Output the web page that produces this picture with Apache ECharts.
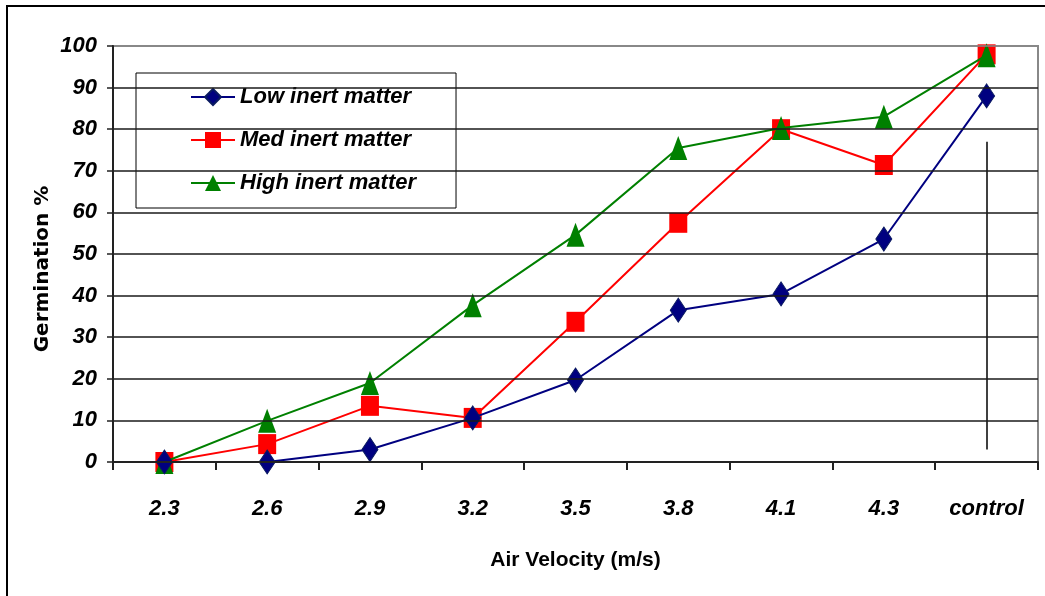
<!DOCTYPE html>
<html>
<head>
<meta charset="utf-8">
<script src="https://cdn.jsdelivr.net/npm/echarts@6/dist/echarts.min.js"></script>
<style>
  html, body { margin: 0; padding: 0; background: #fff; }
  #chart { width: 1045px; height: 596px; }
</style>
</head>
<body>
<div id="chart"></div>
<script>
// categories on the x axis
const velocities = ["2.3", "2.6", "2.9", "3.2", "3.5", "3.8", "4.1", "4.3", "control"];
// germination % per inert matter level
const lowInert = [0, 0, 3, 10.6, 19.7, 36.5, 40.4, 53.6, 88];
const medInert = [0, 4.3, 13.5, 10.6, 33.7, 57.5, 80, 71.4, 98];
const highInert = [0, 9.9, 19, 37.7, 54.6, 75.5, 80.3, 83, 97.8];
// the stray vertical line in the control column (from, to)
const controlLine = [3, 77];

const labelFont = {
  fontFamily: "Liberation Sans",
  fontWeight: "bold",
  fontStyle: "italic",
  fontSize: 22,
  color: "#000"
};

let myChart = echarts.init(document.getElementById("chart"));

// splitLine colours: black except the top one which is the grey frame
let gridColors = [];
for (let i = 0; i <= 10; i++) gridColors.push(i === 10 ? "#888888" : "#1a1a1a");

let option = {
  backgroundColor: "#fff",
  animation: false,
  graphic: [
    {
      type: "rect",
      shape: { x: 7, y: 6, width: 1200, height: 800 },
      style: { fill: "none", stroke: "#000", lineWidth: 2 },
      silent: true
    }
  ],
  grid: {
    left: 113,
    top: 46,
    right: 7,
    bottom: 134,
    show: true,
    borderColor: "#888888",
    borderWidth: 2
  },
  legend: {
    left: 136,
    top: 73,
    orient: "vertical",
    itemWidth: 44,
    itemHeight: 20,
    itemGap: 21,
    padding: [13, 40, 14, 54],
    borderColor: "#000",
    borderWidth: 1,
    backgroundColor: "#fff",
    textStyle: labelFont,
    data: ["Low inert matter", "Med inert matter", "High inert matter"]
  },
  xAxis: {
    type: "category",
    data: velocities,
    boundaryGap: true,
    name: "Air Velocity (m/s)",
    nameLocation: "middle",
    nameGap: 88,
    nameMoveOverlap: false,
    nameTextStyle: {
      fontFamily: "Liberation Sans",
      fontWeight: "bold",
      fontSize: 21,
      color: "#000",
      verticalAlign: "top"
    },
    axisLine: { lineStyle: { color: "#222", width: 2 } },
    axisTick: { show: true, length: 8, interval: 0, lineStyle: { color: "#222", width: 2 } },
    axisLabel: Object.assign({ margin: 36, interval: 0 }, labelFont),
    splitLine: { show: false },
    z: 10
  },
  yAxis: {
    type: "value",
    min: 0,
    max: 100,
    interval: 10,
    name: "Germination %",
    nameLocation: "middle",
    nameGap: 60,
    nameRotate: 90,
    nameMoveOverlap: false,
    nameTextStyle: {
      fontFamily: "DejaVu Sans",
      fontWeight: "bold",
      fontSize: 20,
      color: "#000",
      padding: [0, 0, 0, -30]
    },
    axisLine: { show: true, lineStyle: { color: "#222", width: 2 } },
    axisTick: { show: true, length: 6, lineStyle: { color: "#222", width: 1.5 } },
    axisLabel: Object.assign({ margin: 16 }, labelFont),
    splitLine: { show: true, lineStyle: { color: gridColors, width: 1.5 } },
    z: 10
  },
  series: [
    {
      name: "Low inert matter",
      type: "line",
      data: lowInert,
      symbol: "diamond",
      symbolSize: [16, 24],
      z: 6,
      lineStyle: { color: "#000080", width: 2 },
      itemStyle: { color: "#000080", borderColor: "#0a1a60", borderWidth: 1 },
      markLine: {
        silent: true,
        symbol: ["none", "none"],
        label: { show: false },
        lineStyle: { color: "#000", width: 1.5, type: "solid" },
        data: [
          [
            { coord: ["control", controlLine[0]] },
            { coord: ["control", controlLine[1]] }
          ]
        ]
      }
    },
    {
      name: "Med inert matter",
      type: "line",
      data: medInert,
      symbol: "rect",
      symbolSize: [18, 20],
      z: 4,
      lineStyle: { color: "#ff0000", width: 2 },
      itemStyle: { color: "#ff0000" }
    },
    {
      name: "High inert matter",
      type: "line",
      data: highInert,
      symbol: "triangle",
      symbolSize: [18, 24],
      z: 5,
      lineStyle: { color: "#008000", width: 2 },
      itemStyle: { color: "#008000" }
    }
  ]
};

myChart.setOption(option);
</script>
</body>
</html>
